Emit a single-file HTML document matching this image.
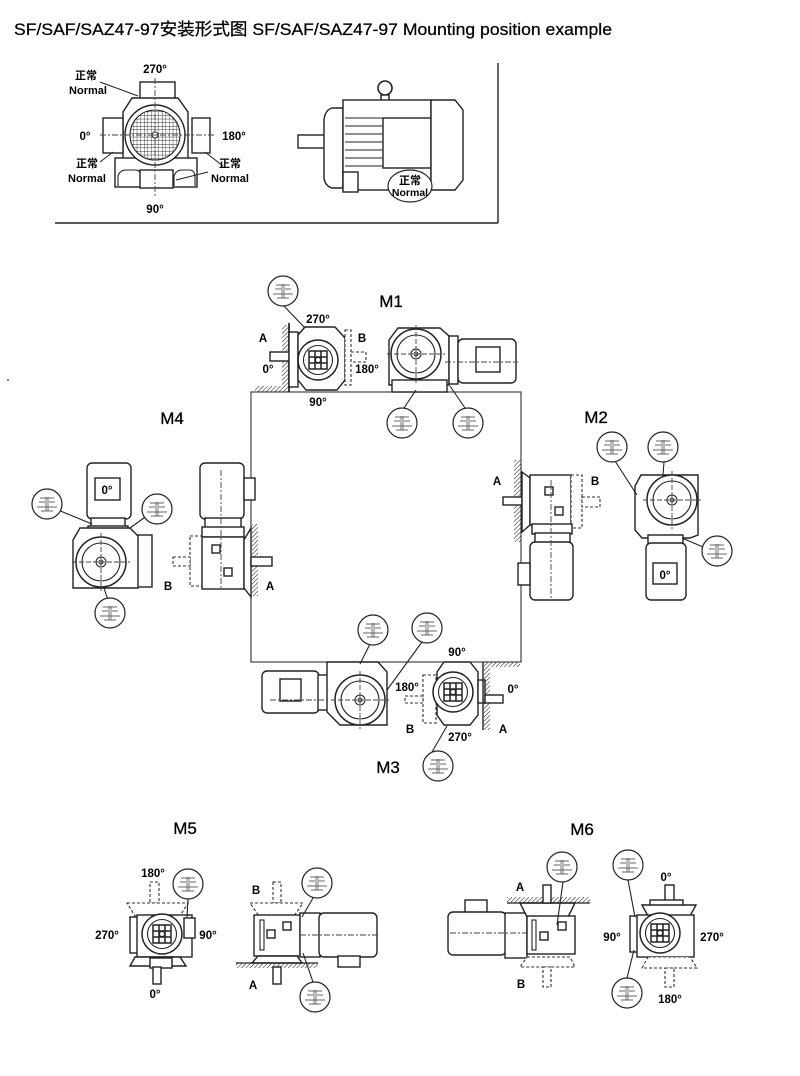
<!DOCTYPE html>
<html><head><meta charset="utf-8"><style>
html,body{margin:0;padding:0;background:#fff;}
svg{display:block;}
text{font-family:"Liberation Sans","Noto Sans CJK SC",sans-serif;fill:#000;}
.d{font-size:11.5px;font-weight:bold;}
.n{font-size:11px;font-weight:bold;}
.m{font-size:17px;stroke:#000;stroke-width:0.3;}
.s{fill:#fff;stroke:#222;stroke-width:1.4;}
.l{fill:none;stroke:#222;stroke-width:1.1;}
.dash{fill:#fff;stroke:#333;stroke-width:1.1;stroke-dasharray:3 2;}
.c{fill:none;stroke:#444;stroke-width:0.9;stroke-dasharray:6 2 2 2;}
</style></head><body>
<svg width="800" height="1076" viewBox="0 0 800 1076" xmlns="http://www.w3.org/2000/svg">
<defs>
<pattern id="grid" width="3.6" height="3.6" patternUnits="userSpaceOnUse"><path d="M0 0H3.6M0 0V3.6" stroke="#222" stroke-width="0.8" fill="none"/></pattern>
<pattern id="hatch" width="3" height="3" patternUnits="userSpaceOnUse" patternTransform="rotate(45)"><line x1="0" y1="0" x2="0" y2="3" stroke="#222" stroke-width="1.1"/></pattern>
<g id="co"><circle r="15" fill="#fff" stroke="#222" stroke-width="1.2"/><path d="M-10 3H10M-8 -2H-2M2 -2H8M-1 -7V7M1 -7V7M-6 7H6M-7 -6H7" stroke="#666" stroke-width="0.9" fill="none"/></g>
<g id="ge"><circle r="20" fill="#fff" stroke="#222" stroke-width="1.5"/><circle r="14.5" fill="#fff" stroke="#222" stroke-width="1.1"/><path d="M-9 -9H9V9H-9Z M-3 -9V9M3 -9V9M-9 -3H9M-9 3H9" stroke="#222" stroke-width="1.5" fill="none"/><circle r="2.5" fill="#fff" stroke="#222"/></g>
<g id="gf"><circle r="25" fill="#fff" stroke="#222" stroke-width="1.5"/><circle r="19" fill="none" stroke="#222" stroke-width="1.1"/><circle r="5" fill="#fff" stroke="#222"/><circle r="2" fill="none" stroke="#222"/><path d="M-29 0H29M0 -29V29" stroke="#444" stroke-width="0.9" stroke-dasharray="5 2"/></g>
</defs>

<!-- Title -->
<text x="14" y="35" font-size="17" textLength="598" lengthAdjust="spacingAndGlyphs" stroke="#000" stroke-width="0.25">SF/SAF/SAZ47-97安装形式图 SF/SAF/SAZ47-97 Mounting position example</text>

<!-- top box lines -->
<line x1="498" y1="63" x2="498" y2="223" stroke="#222" stroke-width="1.4"/>
<line x1="55" y1="223" x2="498" y2="223" stroke="#222" stroke-width="1.4"/>

<!-- top-left end view -->
<rect x="140" y="82" width="35" height="18" class="s"/>
<path d="M123 112 L132 98 H178 L188 112 V160 H123 Z" class="s"/>
<rect x="103" y="118" width="20" height="35" class="s"/>
<rect x="192" y="118" width="18" height="35" class="s"/>
<rect x="115" y="158" width="82" height="29" class="s"/>
<path d="M118 186 V176 Q120 170 126 170 H136 Q140 170 141 176 V186" class="l"/>
<path d="M174 186 V176 Q176 170 182 170 H190 Q194 170 195 176 V186" class="l"/>
<rect x="140" y="170" width="33" height="18" class="s"/>
<circle cx="155" cy="135" r="30" class="s"/>
<circle cx="155" cy="135" r="25" fill="url(#grid)" stroke="#222" stroke-width="1.1"/>
<circle cx="155" cy="135" r="3" fill="#fff" stroke="#222"/>
<line x1="155" y1="78" x2="155" y2="196" class="c"/>
<line x1="100" y1="135" x2="215" y2="135" class="c"/>
<line x1="100" y1="82" x2="138" y2="96" class="l"/>
<line x1="100" y1="162" x2="113" y2="152" class="l"/>
<line x1="205" y1="152" x2="223" y2="166" class="l"/>
<line x1="176" y1="180" x2="208" y2="172" class="l"/>
<text x="155" y="73" class="d" text-anchor="middle">270°</text>
<text x="86" y="79" class="n" text-anchor="middle">正常</text>
<text x="88" y="94" class="n" text-anchor="middle">Normal</text>
<text x="85" y="140" class="d" text-anchor="middle">0°</text>
<text x="234" y="140" class="d" text-anchor="middle">180°</text>
<text x="87" y="167" class="n" text-anchor="middle">正常</text>
<text x="87" y="182" class="n" text-anchor="middle">Normal</text>
<text x="230" y="167" class="n" text-anchor="middle">正常</text>
<text x="230" y="182" class="n" text-anchor="middle">Normal</text>
<text x="155" y="213" class="d" text-anchor="middle">90°</text>

<!-- top side motor -->
<rect x="298" y="135" width="27" height="13" class="s"/>
<path d="M343 108 H332 Q325 110 324 120 V178 Q325 186 332 188 H343 Z" class="s"/>
<circle cx="385" cy="88" r="7" fill="#fff" stroke="#222" stroke-width="1.6"/>
<rect x="381" y="95" width="8" height="6" class="s"/>
<rect x="343" y="100" width="88" height="90" class="s"/>
<path d="M345 118H383M345 126H383M345 134H383M345 142H383M345 150H383M345 158H383M345 166H383" class="l" stroke-width="0.9"/>
<rect x="383" y="118" width="48" height="50" class="s"/>
<path d="M431 100 H455 L463 110 V180 L455 190 H431 Z" class="s"/>
<rect x="343" y="172" width="15" height="20" class="s"/>
<ellipse cx="410" cy="186" rx="22" ry="16" fill="#fff" stroke="#222" stroke-width="1.2"/>
<text x="410" y="184" class="n" text-anchor="middle">正常</text>
<text x="410" y="196" font-size="10.5" font-weight="bold" text-anchor="middle">Normal</text>

<!-- Main rectangle -->
<rect x="251" y="392" width="270" height="270" fill="none" stroke="#333" stroke-width="1.1"/>
<circle cx="8" cy="380" r="1" fill="#555"/>

<!-- M1 -->
<text x="391" y="307" class="m" text-anchor="middle">M1</text>
<rect x="282" y="325" width="7" height="62" fill="url(#hatch)"/>
<rect x="255" y="386" width="34" height="6" fill="url(#hatch)"/>
<line x1="289" y1="323" x2="289" y2="392" stroke="#222" stroke-width="1.7"/>
<rect x="270" y="352" width="19" height="9" class="s"/>
<rect x="289" y="332" width="9" height="55" class="s"/>
<path d="M298 335 L305 327 H335 L345 338 V380 L337 390 H306 L298 380 Z" class="s"/>
<rect x="345" y="330" width="6" height="55" class="dash"/>
<rect x="351" y="352" width="15" height="10" class="dash"/>
<use href="#ge" x="318" y="360"/>
<line x1="283" y1="305" x2="305" y2="328" class="l"/>
<use href="#co" x="283" y="291"/>
<text x="263" y="342" class="d" text-anchor="middle">A</text>
<text x="268" y="373" class="d" text-anchor="middle">0°</text>
<text x="318" y="323" class="d" text-anchor="middle">270°</text>
<text x="362" y="342" class="d" text-anchor="middle">B</text>
<text x="367" y="373" class="d" text-anchor="middle">180°</text>
<text x="318" y="406" class="d" text-anchor="middle">90°</text>
<path d="M389 340 L398 328 H440 L449 336 V385 H389 Z" class="s"/>
<rect x="392" y="380" width="55" height="12" class="s"/>
<use href="#gf" x="416" y="354"/>
<rect x="449" y="336" width="9" height="48" class="s"/>
<rect x="458" y="339" width="58" height="44" rx="5" class="s"/>
<rect x="476" y="347" width="24" height="25" class="s"/>
<line x1="445" y1="362" x2="518" y2="362" class="c"/>
<line x1="404" y1="408" x2="416" y2="390" class="l"/>
<line x1="465" y1="408" x2="450" y2="386" class="l"/>
<use href="#co" x="402" y="423"/>
<use href="#co" x="468" y="423"/>

<!-- M4 -->
<text x="172" y="424" class="m" text-anchor="middle">M4</text>
<rect x="87" y="463" width="44" height="56" rx="5" class="s"/>
<rect x="95" y="478" width="25" height="22" class="s"/>
<text x="107" y="494" class="d" text-anchor="middle">0°</text>
<rect x="91" y="518" width="34" height="9" class="s"/>
<rect x="88" y="526" width="40" height="5" class="s"/>
<rect x="137" y="535" width="15" height="52" class="s"/>
<path d="M73 540 L80 528 H130 L138 536 V588 H73 Z" class="s"/>
<use href="#gf" x="101" y="562"/>
<line x1="58" y1="510" x2="92" y2="524" class="l"/>
<line x1="148" y1="515" x2="130" y2="528" class="l"/>
<line x1="108" y1="600" x2="104" y2="588" class="l"/>
<use href="#co" x="47" y="504"/>
<use href="#co" x="157" y="509"/>
<use href="#co" x="110" y="613"/>
<rect x="200" y="463" width="44" height="56" rx="5" class="s"/>
<rect x="244" y="478" width="11" height="22" class="s"/>
<rect x="205" y="518" width="36" height="10" class="s"/>
<rect x="202" y="527" width="42" height="10" class="s"/>
<rect x="190" y="536" width="12" height="50" class="dash"/>
<rect x="173" y="557" width="17" height="9" class="dash"/>
<rect x="202" y="537" width="42" height="52" class="s"/>
<rect x="212" y="545" width="8" height="8" class="s"/>
<rect x="224" y="568" width="8" height="8" class="s"/>
<path d="M244 540 L251 528 V597 L244 588 Z" class="s"/>
<rect x="252" y="524" width="6" height="72" fill="url(#hatch)"/>
<rect x="251" y="557" width="21" height="9" class="s"/>
<line x1="221" y1="470" x2="221" y2="590" class="c"/>
<text x="168" y="590" class="d" text-anchor="middle">B</text>
<text x="270" y="590" class="d" text-anchor="middle">A</text>

<!-- M2 -->
<text x="596" y="423" class="m" text-anchor="middle">M2</text>
<rect x="514" y="460" width="7" height="82" fill="url(#hatch)"/>
<rect x="503" y="497" width="19" height="8" class="s"/>
<path d="M522 472 L530 478 V525 L522 532 Z" class="s"/>
<rect x="530" y="475" width="41" height="50" class="s"/>
<rect x="545" y="487" width="8" height="8" class="s"/>
<rect x="555" y="507" width="8" height="8" class="s"/>
<rect x="571" y="475" width="11" height="53" class="dash"/>
<rect x="582" y="497" width="18" height="10" class="dash"/>
<rect x="532" y="524" width="40" height="10" class="s"/>
<rect x="535" y="533" width="35" height="10" class="s"/>
<rect x="530" y="542" width="43" height="58" rx="5" class="s"/>
<rect x="518" y="563" width="12" height="22" class="s"/>
<line x1="551" y1="480" x2="551" y2="598" class="c"/>
<text x="497" y="485" class="d" text-anchor="middle">A</text>
<text x="595" y="485" class="d" text-anchor="middle">B</text>
<path d="M635 486 L641 475 H698 V535 L690 538 H642 L635 530 Z" class="s"/>
<use href="#gf" x="672" y="500"/>
<rect x="648" y="535" width="35" height="9" class="s"/>
<rect x="646" y="543" width="40" height="57" rx="5" class="s"/>
<rect x="653" y="563" width="24" height="21" class="s"/>
<text x="665" y="579" class="d" text-anchor="middle">0°</text>
<line x1="615" y1="461" x2="637" y2="495" class="l"/>
<line x1="664" y1="462" x2="663" y2="475" class="l"/>
<line x1="703" y1="547" x2="682" y2="538" class="l"/>
<use href="#co" x="612" y="447"/>
<use href="#co" x="663" y="447"/>
<use href="#co" x="717" y="551"/>

<!-- M3 -->
<text x="388" y="773" class="m" text-anchor="middle">M3</text>
<rect x="262" y="671" width="57" height="42" rx="5" class="s"/>
<rect x="280" y="679" width="21" height="22" class="s"/>
<rect x="318" y="675" width="10" height="35" class="s"/>
<path d="M327 662 H378 L387 672 V725 H340 L327 712 Z" class="s"/>
<use href="#gf" x="360" y="700"/>
<line x1="270" y1="700" x2="330" y2="700" class="c"/>
<line x1="370" y1="644" x2="360" y2="664" class="l"/>
<line x1="422" y1="642" x2="387" y2="690" class="l"/>
<use href="#co" x="373" y="630"/>
<use href="#co" x="427" y="628"/>
<rect x="423" y="675" width="13" height="48" class="dash"/>
<rect x="405" y="696" width="18" height="7" class="dash"/>
<path d="M437 672 L444 662 H470 L478 672 V715 L470 725 H444 L437 715 Z" class="s"/>
<use href="#ge" x="453" y="692"/>
<rect x="478" y="680" width="7" height="23" class="s"/>
<rect x="484" y="662" width="6" height="68" fill="url(#hatch)"/>
<rect x="490" y="662" width="30" height="5" fill="url(#hatch)"/>
<line x1="483" y1="662" x2="483" y2="730" stroke="#222" stroke-width="1.4"/>
<rect x="485" y="695" width="18" height="8" class="s"/>
<line x1="432" y1="752" x2="447" y2="726" class="l"/>
<use href="#co" x="438" y="766"/>
<text x="457" y="656" class="d" text-anchor="middle">90°</text>
<text x="407" y="691" class="d" text-anchor="middle">180°</text>
<text x="513" y="693" class="d" text-anchor="middle">0°</text>
<text x="410" y="733" class="d" text-anchor="middle">B</text>
<text x="460" y="741" class="d" text-anchor="middle">270°</text>
<text x="503" y="733" class="d" text-anchor="middle">A</text>

<!-- M5 -->
<text x="185" y="834" class="m" text-anchor="middle">M5</text>
<rect x="150" y="882" width="9" height="21" class="dash"/>
<path d="M127 903 H188 L180 916 H135 Z" class="dash"/>
<rect x="130" y="917" width="8" height="36" class="s"/>
<rect x="137" y="915" width="55" height="42" class="s"/>
<rect x="184" y="918" width="11" height="20" class="s"/>
<use href="#ge" x="162" y="934"/>
<path d="M135 957 H180 L186 966 H130 Z" class="s"/>
<rect x="150" y="958" width="22" height="10" class="s"/>
<rect x="153" y="967" width="8" height="17" class="s"/>
<line x1="188" y1="899" x2="187" y2="917" class="l"/>
<use href="#co" x="188" y="884"/>
<text x="153" y="877" class="d" text-anchor="middle">180°</text>
<text x="107" y="939" class="d" text-anchor="middle">270°</text>
<text x="208" y="939" class="d" text-anchor="middle">90°</text>
<text x="155" y="998" class="d" text-anchor="middle">0°</text>
<rect x="273" y="882" width="8" height="21" class="dash"/>
<path d="M250 903 H303 L294 916 H259 Z" class="dash"/>
<rect x="254" y="915" width="46" height="41" class="s"/>
<rect x="260" y="920" width="4" height="30" class="l"/>
<rect x="267" y="930" width="8" height="8" class="s"/>
<rect x="283" y="922" width="8" height="8" class="s"/>
<rect x="300" y="913" width="20" height="44" class="s"/>
<rect x="319" y="913" width="58" height="44" rx="5" class="s"/>
<rect x="338" y="956" width="22" height="11" class="s"/>
<line x1="300" y1="935" x2="380" y2="935" class="c"/>
<path d="M258 956 H297 L302 963 H252 Z" class="s"/>
<rect x="236" y="963" width="82" height="5" fill="url(#hatch)"/>
<line x1="236" y1="963" x2="318" y2="963" stroke="#222" stroke-width="1.3"/>
<rect x="273" y="967" width="8" height="17" class="s"/>
<line x1="313" y1="898" x2="302" y2="917" class="l"/>
<line x1="313" y1="982" x2="303" y2="953" class="l"/>
<use href="#co" x="317" y="883"/>
<use href="#co" x="315" y="997"/>
<text x="256" y="894" class="d" text-anchor="middle">B</text>
<text x="253" y="989" class="d" text-anchor="middle">A</text>

<!-- M6 -->
<text x="582" y="835" class="m" text-anchor="middle">M6</text>
<rect x="465" y="900" width="22" height="13" class="s"/>
<rect x="448" y="912" width="58" height="43" rx="5" class="s"/>
<rect x="505" y="913" width="22" height="45" class="s"/>
<path d="M520 903 H575 L568 917 H527 Z" class="s"/>
<rect x="507" y="897" width="83" height="6" fill="url(#hatch)"/>
<line x1="507" y1="903" x2="590" y2="903" stroke="#222" stroke-width="1.3"/>
<rect x="543" y="885" width="8" height="18" class="s"/>
<rect x="527" y="916" width="48" height="38" class="s"/>
<rect x="532" y="920" width="4" height="30" class="l"/>
<rect x="540" y="932" width="8" height="8" class="s"/>
<rect x="558" y="922" width="8" height="8" class="s"/>
<path d="M527 957 H570 L575 967 H520 Z" class="dash"/>
<rect x="543" y="967" width="8" height="20" class="dash"/>
<line x1="450" y1="933" x2="530" y2="933" class="c"/>
<line x1="563" y1="882" x2="557" y2="925" class="l"/>
<use href="#co" x="562" y="867"/>
<text x="520" y="891" class="d" text-anchor="middle">A</text>
<text x="521" y="988" class="d" text-anchor="middle">B</text>
<rect x="665" y="885" width="9" height="16" class="s"/>
<rect x="650" y="900" width="33" height="7" class="s"/>
<path d="M642 905 H696 L690 916 H648 Z" class="s"/>
<rect x="630" y="916" width="8" height="36" class="s"/>
<rect x="637" y="915" width="57" height="42" class="s"/>
<use href="#ge" x="660" y="933"/>
<path d="M648 957 H690 L697 968 H642 Z" class="dash"/>
<rect x="665" y="968" width="9" height="19" class="dash"/>
<line x1="628" y1="880" x2="635" y2="917" class="l"/>
<line x1="627" y1="978" x2="634" y2="950" class="l"/>
<use href="#co" x="628" y="865"/>
<use href="#co" x="627" y="993"/>
<text x="666" y="881" class="d" text-anchor="middle">0°</text>
<text x="612" y="941" class="d" text-anchor="middle">90°</text>
<text x="712" y="941" class="d" text-anchor="middle">270°</text>
<text x="670" y="1003" class="d" text-anchor="middle">180°</text>
</svg>
</body></html>
